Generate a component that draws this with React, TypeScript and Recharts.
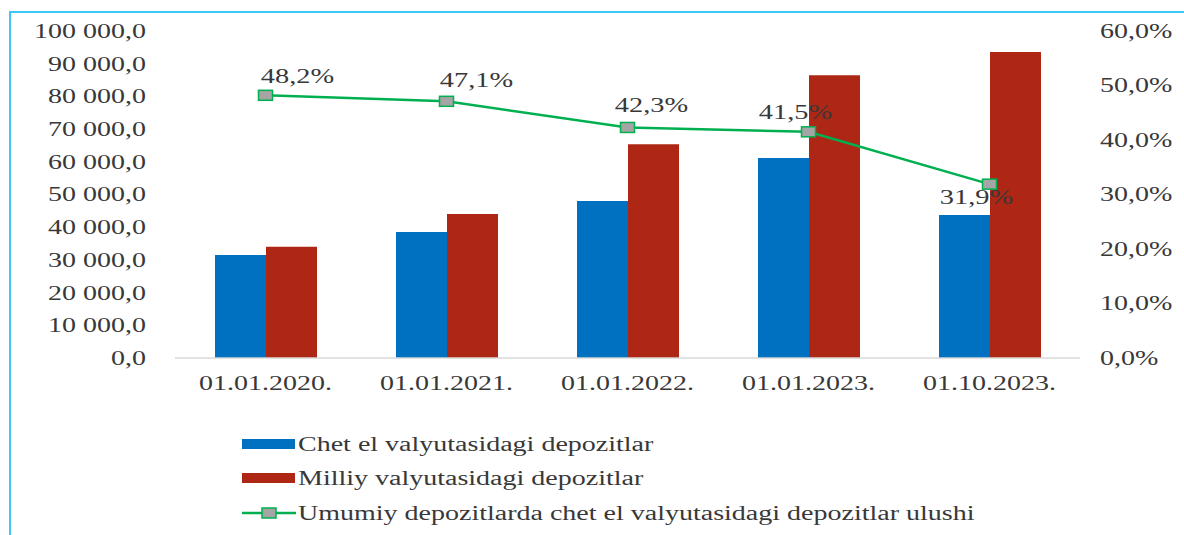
import React from "react";
import { ComposedChart, Bar, Line, XAxis, YAxis, LabelList } from "recharts";

const categories = ["01.01.2020.", "01.01.2021.", "01.01.2022.", "01.01.2023.", "01.10.2023."];
const foreignDeposits = [31500, 38500, 48000, 61200, 43700];
const nationalDeposits = [34000, 44000, 65400, 86500, 93600];
const foreignShare = [48.2, 47.1, 42.3, 41.5, 31.9];
const leftTicks = [0, 10000, 20000, 30000, 40000, 50000, 60000, 70000, 80000, 90000, 100000];
const rightTicks = [0, 10, 20, 30, 40, 50, 60];
const seriesNames = [
  "Chet el valyutasidagi depozitlar",
  "Milliy valyutasidagi depozitlar",
  "Umumiy depozitlarda chet el valyutasidagi depozitlar ulushi",
];

const data = categories.map((c, i) => ({
  cat: c,
  foreign: foreignDeposits[i],
  national: nationalDeposits[i],
  share: foreignShare[i],
}));

const BLUE = "#0070C0";
const RED = "#AE2715";
const GREEN = "#00B050";
const GREY = "#A5A5A5";
const TXT = "#383838";
const FONT = "'Liberation Serif', 'Times New Roman', serif";

const labelOffsets = [
  [32, -19],
  [30, -21],
  [24, -22],
  [-13, -20],
  [-13, 13],
];

const fmtLeft = (v: number) => {
  const s = Math.round(v).toString().replace(/\B(?=(\d{3})+(?!\d))/g, " ");
  return s + ",0";
};
const fmtPct = (v: number) => v.toFixed(1).replace(".", ",") + "%";

const stretch = (x: number, k: number) => `translate(${x} 0) scale(${k} 1) translate(${-x} 0)`;

const LeftTick = (props: any) => {
  const { x, y, payload } = props;
  return (
    <text x={x} y={y} textAnchor="end" dominantBaseline="central" fill={TXT} fontSize={20} fontFamily={FONT} transform={stretch(x, 1.4)}>
      {fmtLeft(payload.value)}
    </text>
  );
};
const RightTick = (props: any) => {
  const { x, y, payload } = props;
  return (
    <text x={x} y={y} textAnchor="start" dominantBaseline="central" fill={TXT} fontSize={20} fontFamily={FONT} transform={stretch(x, 1.4)}>
      {fmtPct(payload.value)}
    </text>
  );
};
const BottomTick = (props: any) => {
  const { x, y, payload } = props;
  return (
    <text x={x} y={y} textAnchor="middle" dominantBaseline="central" fill={TXT} fontSize={20} fontFamily={FONT} transform={stretch(x, 1.4)}>
      {payload.value}
    </text>
  );
};

const ShareLabel = (props: any) => {
  const { x, y, value, index } = props;
  const [dx, dy] = labelOffsets[index] || [0, -20];
  const cx = x + dx;
  return (
    <text x={cx} y={y + dy} textAnchor="middle" dominantBaseline="central" fill={TXT} fontSize={20} fontFamily={FONT} transform={stretch(cx, 1.42)}>
      {fmtPct(value)}
    </text>
  );
};

const SquareDot = (props: any) => {
  const { cx, cy } = props;
  if (cx == null || cy == null) return null;
  return <rect x={cx - 7} y={cy - 5} width={14} height={10} fill={GREY} stroke={GREEN} strokeWidth={1.5} />;
};

const legendItems = [
  { name: seriesNames[0], kind: "bar", color: BLUE },
  { name: seriesNames[1], kind: "bar", color: RED },
  { name: seriesNames[2], kind: "line", color: GREEN },
];

export default function App() {
  return (
    <div style={{ position: "absolute", left: 0, top: 0, width: 1184, height: 535, background: "#fff", overflow: "hidden" }}>
      <div style={{ position: "absolute", left: 9, top: 11, width: 1200, height: 600, borderLeft: "2px solid #3CC8F5", borderTop: "2px solid #3CC8F5" }} />
      <div style={{ position: "absolute", left: 0, top: 0 }}>
        <ComposedChart width={1184} height={535} data={data} margin={{ top: 31, right: 0, left: 0, bottom: 137 }} barGap={0} barSize={51}>
          <XAxis dataKey="cat" height={40} tickLine={false} axisLine={{ stroke: "#D9D9D9", strokeWidth: 1.5 }} tick={<BottomTick />} tickMargin={25} tickSize={0} interval={0} />
          <YAxis yAxisId="left" orientation="left" width={175} domain={[0, 100000]} ticks={leftTicks} axisLine={false} tickLine={false} tickSize={0} tickMargin={29} tick={<LeftTick />} interval={0} />
          <YAxis yAxisId="right" orientation="right" width={104} domain={[0, 60]} ticks={rightTicks} axisLine={false} tickLine={false} tickSize={0} tickMargin={20} tick={<RightTick />} interval={0} />
          <Bar yAxisId="left" dataKey="foreign" name={seriesNames[0]} fill={BLUE} isAnimationActive={false} />
          <Bar yAxisId="left" dataKey="national" name={seriesNames[1]} fill={RED} isAnimationActive={false} />
          <Line yAxisId="right" dataKey="share" name={seriesNames[2]} stroke={GREEN} strokeWidth={2.5} dot={<SquareDot />} activeDot={false} isAnimationActive={false}>
            <LabelList dataKey="share" content={<ShareLabel />} />
          </Line>
        </ComposedChart>
      </div>
      <div style={{ position: "absolute", left: 242, top: 428, fontFamily: FONT, fontSize: 20, color: TXT }}>
        {legendItems.map((it, i) => (
          <div key={i} style={{ position: "absolute", left: 0, top: [2, 36, 71][i], height: 28, width: 900, display: "flex", alignItems: "center", whiteSpace: "nowrap" }}>
            <svg width={54} height={14} style={{ flex: "none" }}>
              {it.kind === "bar" ? (
                <rect x={0} y={2} width={53} height={10} fill={it.color} />
              ) : (
                <g>
                  <line x1={0} y1={7} x2={54} y2={7} stroke={it.color} strokeWidth={2.5} />
                  <rect x={20} y={2} width={14} height={10} fill={GREY} stroke={GREEN} strokeWidth={1.5} />
                </g>
              )}
            </svg>
            <span style={{ display: "inline-block", marginLeft: 2, transform: "scaleX(1.4)", transformOrigin: "left center" }}>{it.name}</span>
          </div>
        ))}
      </div>
    </div>
  );
}
